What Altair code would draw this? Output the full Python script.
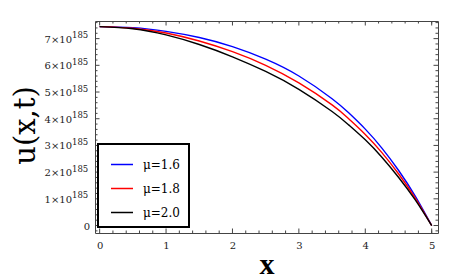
import altair as alt
import pandas as pd

# ---- data (u in units of 10^185) ----
x_vals = [0, 0.5, 1, 1.5, 2, 2.5, 3, 3.5, 3.75, 4, 4.25, 4.5, 4.75, 5]
u_mu16 = [7.45, 7.41, 7.27, 7.04, 6.70, 6.23, 5.60, 4.75, 4.22, 3.61, 2.90, 2.07, 1.11, 0]
u_mu18 = [7.45, 7.39, 7.21, 6.91, 6.51, 6.00, 5.34, 4.52, 4.00, 3.41, 2.73, 1.94, 1.04, 0]
u_mu20 = [7.45, 7.37, 7.14, 6.78, 6.32, 5.77, 5.10, 4.27, 3.77, 3.21, 2.56, 1.81, 0.97, 0]
series_names = ["\u03bc=1.6", "\u03bc=1.8", "\u03bc=2.0"]
series_colors = ["#0000ff", "#ff0000", "#000000"]

x_major = [0, 1, 2, 3, 4, 5]
x_minor = [0.2, 0.4, 0.6, 0.8, 1.2, 1.4, 1.6, 1.8, 2.2, 2.4, 2.6, 2.8,
           3.2, 3.4, 3.6, 3.8, 4.2, 4.4, 4.6, 4.8, 5.0]
y_major = [0, 1, 2, 3, 4, 5, 6, 7]
y_minor = [-0.2, 0.2, 0.4, 0.6, 0.8, 1.2, 1.4, 1.6, 1.8, 2.2, 2.4, 2.6, 2.8,
           3.2, 3.4, 3.6, 3.8, 4.2, 4.4, 4.6, 4.8, 5.2, 5.4, 5.6, 5.8,
           6.2, 6.4, 6.6, 6.8, 7.2, 7.4, 7.6]
y_label_vals = [1, 2, 3, 4, 5, 6, 7]
y_label_base = ["1\u00d710", "2\u00d710", "3\u00d710", "4\u00d710", "5\u00d710", "6\u00d710", "7\u00d710"]
y_label_exp = "185"

W, H = 343, 212
TICK = "#444444"
LABEL_COLOR = "#222222"

rows = []
for name, vals in zip(series_names, [u_mu16, u_mu18, u_mu20]):
    for xv, uv in zip(x_vals, vals):
        rows.append({"x": xv, "u": uv, "series": name})
df = pd.DataFrame(rows)

xs = alt.Scale(domain=[-0.07, 5.095], nice=False, zero=False)
ys = alt.Scale(domain=[-0.28, 7.66], nice=False, zero=False)

x_axis = alt.Axis(
    values=x_major, ticks=False, tickSize=0, domain=False, grid=False,
    labelFont="DejaVu Serif", labelFontSize=10, labelColor=LABEL_COLOR,
    labelPadding=7, title="x", titleFont="Liberation Serif",
    titleFontSize=30, titleFontWeight="bold", titleColor="black",
    titleX=W / 2, titleY=40, titleBaseline="alphabetic", titleAlign="center")
y_axis = alt.Axis(
    labels=False, ticks=False, tickSize=0, domain=False, grid=False,
    title="u(x,t)", titleFont="DejaVu Serif", titleFontSize=29,
    titleFontWeight="normal", titleColor="black",
    titleX=-61, titleY=H / 2 - 2, titleAngle=270, titleBaseline="alphabetic",
    titleAlign="center")

lines = alt.Chart(df).mark_line(strokeWidth=1.4, interpolate="natural").encode(
    x=alt.X("x:Q", scale=xs, axis=x_axis),
    y=alt.Y("u:Q", scale=ys, axis=y_axis),
    color=alt.Color("series:N", scale=alt.Scale(domain=series_names, range=series_colors),
                    legend=alt.Legend(
                        title=None, orient="none", legendX=3, legendY=123,
                        strokeColor="black", fillColor="white",
                        padding=8.5, rowPadding=6, symbolType="stroke", symbolSize=484,
                        symbolStrokeWidth=1.5, symbolOffset=3.5, labelOffset=9,
                        labelFont="DejaVu Serif", labelFontSize=12, labelColor="black")),
)


def x_ticks(values, length, side):
    d = pd.DataFrame({"t": values})
    y0, y1 = (H, H - length) if side == "bottom" else (0, length)
    return alt.Chart(d).mark_rule(color=TICK, strokeWidth=1).encode(
        x=alt.X("t:Q", scale=xs, axis=x_axis), y=alt.value(y0), y2=alt.value(y1))


def y_ticks(values, length, side):
    d = pd.DataFrame({"t": values})
    x0, x1 = (0, length) if side == "left" else (W, W - length)
    return alt.Chart(d).mark_rule(color=TICK, strokeWidth=1).encode(
        y=alt.Y("t:Q", scale=ys, axis=y_axis), x=alt.value(x0), x2=alt.value(x1))


ticks = []
for side in ["bottom", "top"]:
    ticks.append(x_ticks(x_major, 4.5, side))
    ticks.append(x_ticks(x_minor, 2.5, side))
for side in ["left", "right"]:
    ticks.append(y_ticks(y_major, 4.5, side))
    ticks.append(y_ticks(y_minor, 2.5, side))

ylab_df = pd.DataFrame({"v": y_label_vals, "base": y_label_base, "exp": [y_label_exp] * len(y_label_vals)})
ylab_base = alt.Chart(ylab_df).mark_text(
    align="right", baseline="middle", dy=1, font="DejaVu Serif", fontSize=10, color=LABEL_COLOR
).encode(y=alt.Y("v:Q", scale=ys, axis=y_axis), x=alt.value(-23), text="base:N")
ylab_exp = alt.Chart(ylab_df).mark_text(
    align="left", baseline="middle", dy=-3.5, font="DejaVu Serif", fontSize=8.5, color=LABEL_COLOR
).encode(y=alt.Y("v:Q", scale=ys, axis=y_axis), x=alt.value(-23), text="exp:N")
zero_df = pd.DataFrame({"v": [0], "lab": ["0"]})
ylab_zero = alt.Chart(zero_df).mark_text(
    align="right", baseline="middle", dy=1, font="DejaVu Serif", fontSize=10, color=LABEL_COLOR
).encode(y=alt.Y("v:Q", scale=ys, axis=y_axis), x=alt.value(-5), text="lab:N")

chart = alt.layer(lines, *ticks, ylab_base, ylab_exp, ylab_zero).properties(
    width=W, height=H,
    autosize=alt.AutoSizeParams(type="none"),
    padding={"left": 87, "top": 13, "right": 10, "bottom": 46},
    background="white",
).configure_view(stroke=TICK, strokeWidth=1).configure_legend(strokeWidth=2)

chart.save("out.html", embed_options={"renderer": "svg", "actions": False})
